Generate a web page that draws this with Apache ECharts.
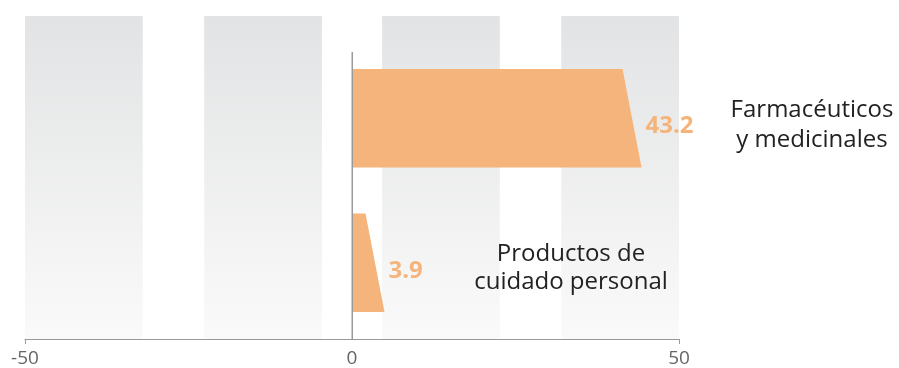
<!DOCTYPE html>
<html>
<head>
<meta charset="utf-8">
<script src="https://cdn.jsdelivr.net/npm/echarts@6/dist/echarts.min.js"></script>
<style>
  html, body { margin: 0; padding: 0; background: #ffffff; }
  #chart { width: 899px; height: 368px; }
</style>
</head>
<body>
<div id="chart"></div>
<script>
// Product categories and their values
const categories = ['Farmacéuticos\ny medicinales', 'Productos de\ncuidado personal'];
const values = [43.2, 3.9];
// Axis tick labels
const axisTicks = [-50, 0, 50];
// Shaded background columns (x ranges)
const bandRanges = [[-50, -32], [-22.6, -4.6], [4.6, 22.6], [32, 50]];

const BAR_COLOR = '#f4b47b';
const FONT = '"Open Sans", sans-serif';
const AXIS_GAP = 4; // distance between plot area bottom and axis line

const chart = echarts.init(document.getElementById('chart'), null, { renderer: 'canvas' });

const option = {
  animation: false,
  grid: { left: 25, right: 220, top: 46, bottom: 29 },
  xAxis: {
    type: 'value',
    min: axisTicks[0],
    max: axisTicks[axisTicks.length - 1],
    interval: 50,
    offset: AXIS_GAP,
    splitLine: { show: false },
    axisLine: { show: true, onZero: false, lineStyle: { color: '#9a9a9a', width: 1 } },
    axisTick: { show: true, customValues: [axisTicks[0], axisTicks[axisTicks.length - 1]], length: 5, lineStyle: { color: '#9a9a9a' } },
    axisLabel: { customValues: axisTicks, fontSize: 19, color: '#666666', fontFamily: FONT, margin: 10 }
  },
  yAxis: { type: 'category', data: categories, inverse: true, show: false },
  series: [
    {
      // background gradient columns
      type: 'custom',
      silent: true,
      clip: false,
      z: 1,
      encode: { x: [0, 1], y: 2 },
      data: bandRanges.map(r => [r[0], r[1], 0]),
      renderItem(params, api) {
        const cs = params.coordSys;
        const xa = api.coord([api.value(0), 0])[0];
        const xb = api.coord([api.value(1), 0])[0];
        const top = cs.y - 30;
        const bottom = cs.y + cs.height + AXIS_GAP;
        return {
          type: 'rect',
          shape: { x: xa, y: top, width: xb - xa, height: bottom - top },
          style: {
            fill: new echarts.graphic.LinearGradient(0, 0, 0, 1, [
              { offset: 0, color: '#e2e3e4' },
              { offset: 1, color: '#fafafa' }
            ])
          }
        };
      }
    },
    {
      // bars with slanted ends and value labels
      type: 'custom',
      z: 3,
      encode: { x: 0, y: 1 },
      data: values.map((v, i) => [v, i]),
      renderItem(params, api) {
        const v = api.value(0);
        const i = api.value(1);
        const p0 = api.coord([0, i]);
        const pv = api.coord([v, i]);
        const h = api.size([0, 1])[1] * 0.68;
        const top = p0[1] - h / 2;
        const bottom = p0[1] + h / 2;
        const x0 = p0[0] + 1;
        return {
          type: 'group',
          children: [
            {
              type: 'polygon',
              shape: { points: [[x0, top], [pv[0] - 12, top], [pv[0] + 7, bottom], [x0, bottom]] },
              style: { fill: BAR_COLOR }
            },
            {
              type: 'text',
              style: {
                x: pv[0] + 11,
                y: p0[1] + 8,
                text: v.toFixed(1),
                align: 'left',
                verticalAlign: 'middle',
                font: 'bold 24px ' + FONT,
                fill: BAR_COLOR
              }
            }
          ]
        };
      }
    },
    {
      // zero reference line
      type: 'custom',
      silent: true,
      clip: false,
      z: 4,
      encode: { x: 0, y: 1 },
      data: [[0, 0]],
      renderItem(params, api) {
        const cs = params.coordSys;
        const x = Math.round(api.coord([0, 0])[0]) + 0.25;
        return {
          type: 'line',
          shape: { x1: x, y1: cs.y + 6, x2: x, y2: cs.y + cs.height + AXIS_GAP },
          style: { stroke: '#9a9a9a', lineWidth: 1.5 }
        };
      }
    }
  ],
  graphic: [
    {
      type: 'text',
      z: 10,
      style: {
        x: 812, y: 125,
        text: categories[0],
        align: 'center', verticalAlign: 'middle',
        font: '24px ' + FONT, lineHeight: 30, fill: '#222222'
      }
    },
    {
      type: 'text',
      z: 10,
      style: {
        x: 571, y: 268,
        text: categories[1],
        align: 'center', verticalAlign: 'middle',
        font: '24px ' + FONT, lineHeight: 28, fill: '#222222'
      }
    }
  ]
};

chart.setOption(option);
</script>
</body>
</html>
